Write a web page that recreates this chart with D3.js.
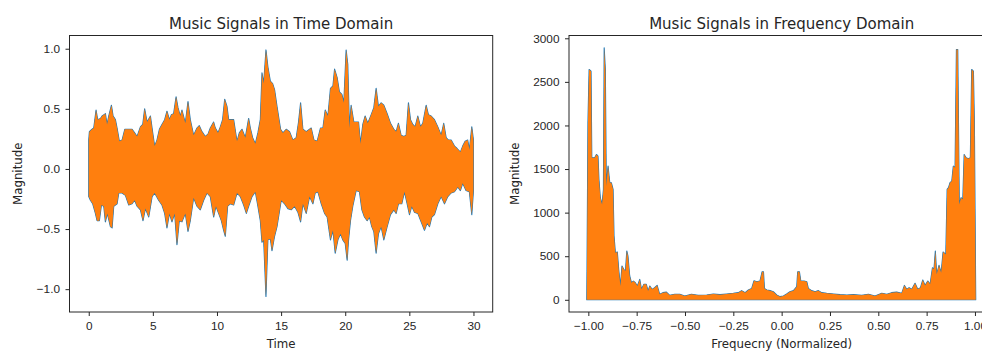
<!DOCTYPE html>
<html>
<head>
<meta charset="utf-8">
<script src="https://cdn.jsdelivr.net/npm/d3@7"></script>
<style>
  html, body { margin: 0; padding: 0; background: #fff; overflow: hidden; }
  svg { display: block; font-family: "DejaVu Sans", sans-serif; }
  .tick text { font-size: 11.8px; fill: #262626; }
  .tick line, .domain { stroke: #262626; }
</style>
</head>
<body>
<svg id="chart" width="982" height="354"></svg>
<script>
// time domain: envelope of the waveform [time s, magnitude]
const timeUpper = [
  [0.00,0.24],[0.05,0.31],[0.26,0.33],[0.39,0.34],[0.57,0.49],[0.70,0.41],[0.91,0.42],[1.04,0.44],[1.17,0.45],[1.30,0.46],
  [1.43,0.37],[1.56,0.44],[1.77,0.53],[1.90,0.44],[2.08,0.41],[2.21,0.34],[2.39,0.23],[2.60,0.24],[2.81,0.33],[3.12,0.33],
  [3.38,0.33],[3.58,0.30],[3.77,0.27],[4.03,0.35],[4.21,0.37],[4.36,0.50],[4.55,0.39],[4.81,0.44],[4.99,0.30],[5.14,0.19],
  [5.32,0.24],[5.51,0.33],[5.71,0.37],[5.92,0.41],[6.10,0.48],[6.29,0.41],[6.44,0.45],[6.62,0.46],[6.81,0.60],[6.96,0.51],
  [7.14,0.44],[7.27,0.49],[7.53,0.38],[7.74,0.56],[7.92,0.41],[8.18,0.28],[8.44,0.34],[8.62,0.36],[8.83,0.31],[9.09,0.27],
  [9.30,0.29],[9.48,0.34],[9.74,0.39],[9.87,0.34],[10.08,0.30],[10.26,0.35],[10.44,0.41],[10.60,0.58],[10.78,0.52],[10.91,0.41],
  [11.12,0.41],[11.30,0.41],[11.56,0.23],[11.74,0.30],[11.95,0.33],[12.21,0.26],[12.47,0.42],[12.60,0.34],[12.78,0.26],[12.99,0.21],
  [13.19,0.30],[13.38,0.41],[13.51,0.80],[13.64,0.71],[13.82,0.99],[13.97,0.85],[14.16,0.73],[14.34,0.71],[14.49,0.66],[14.68,0.52],
  [14.96,0.33],[15.14,0.30],[15.40,0.33],[15.66,0.31],[15.92,0.24],[16.18,0.26],[16.36,0.39],[16.52,0.55],[16.70,0.33],[16.96,0.31],
  [17.22,0.33],[17.35,0.34],[17.56,0.24],[17.81,0.23],[18.07,0.34],[18.26,0.34],[18.44,0.49],[18.65,0.44],[18.85,0.67],[19.04,0.69],
  [19.17,0.83],[19.37,0.76],[19.55,0.64],[19.74,0.62],[19.89,0.55],[20.07,0.99],[20.20,0.87],[20.33,0.34],[20.46,0.53],[20.67,0.39],
  [20.85,0.39],[21.04,0.39],[21.19,0.21],[21.37,0.37],[21.55,0.44],[21.76,0.38],[22.02,0.45],[22.23,0.51],[22.41,0.67],[22.59,0.52],
  [22.80,0.55],[23.01,0.53],[23.27,0.46],[23.53,0.38],[23.79,0.33],[23.97,0.31],[24.15,0.38],[24.36,0.28],[24.57,0.27],[24.75,0.28],
  [24.93,0.55],[25.09,0.41],[25.27,0.37],[25.45,0.35],[25.66,0.44],[25.87,0.35],[26.05,0.38],[26.31,0.53],[26.49,0.45],[26.70,0.44],
  [26.96,0.41],[27.22,0.35],[27.48,0.28],[27.68,0.38],[27.87,0.26],[28.05,0.24],[28.26,0.24],[28.52,0.19],[28.72,0.17],[28.98,0.14],
  [29.16,0.19],[29.35,0.23],[29.55,0.24],[29.68,0.16],[29.87,0.35],[30.00,0.24]
];
const timeLower = [
  [0.00,-0.23],[0.13,-0.26],[0.31,-0.29],[0.52,-0.37],[0.65,-0.43],[0.83,-0.43],[0.99,-0.30],[1.17,-0.31],[1.30,-0.44],[1.45,-0.37],
  [1.69,-0.48],[1.82,-0.49],[1.95,-0.31],[2.21,-0.29],[2.34,-0.20],[2.60,-0.20],[2.86,-0.22],[3.12,-0.30],[3.38,-0.29],[3.58,-0.26],
  [3.77,-0.31],[4.03,-0.34],[4.23,-0.43],[4.42,-0.33],[4.68,-0.40],[4.94,-0.23],[5.14,-0.20],[5.45,-0.26],[5.71,-0.30],[5.92,-0.37],
  [6.10,-0.49],[6.29,-0.37],[6.49,-0.44],[6.70,-0.37],[6.88,-0.63],[7.06,-0.43],[7.27,-0.44],[7.53,-0.37],[7.74,-0.52],[7.92,-0.43],
  [8.18,-0.24],[8.44,-0.31],[8.70,-0.34],[8.96,-0.26],[9.22,-0.20],[9.48,-0.23],[9.74,-0.40],[9.92,-0.31],[10.13,-0.37],[10.34,-0.43],
  [10.52,-0.51],[10.65,-0.56],[10.83,-0.31],[11.04,-0.29],[11.30,-0.30],[11.56,-0.20],[11.82,-0.23],[12.08,-0.30],[12.29,-0.37],[12.47,-0.31],
  [12.73,-0.23],[12.99,-0.19],[13.19,-0.31],[13.38,-0.43],[13.51,-0.61],[13.64,-0.59],[13.82,-1.06],[13.97,-0.59],[14.16,-0.58],[14.29,-0.68],
  [14.49,-0.56],[14.68,-0.48],[15.01,-0.26],[15.27,-0.29],[15.53,-0.33],[15.79,-0.34],[16.05,-0.31],[16.31,-0.36],[16.52,-0.44],[16.70,-0.29],
  [16.96,-0.37],[17.22,-0.23],[17.48,-0.29],[17.66,-0.20],[17.87,-0.19],[18.13,-0.29],[18.39,-0.37],[18.59,-0.40],[18.85,-0.59],[19.04,-0.51],
  [19.22,-0.70],[19.43,-0.59],[19.63,-0.54],[19.81,-0.59],[20.00,-0.62],[20.15,-0.76],[20.26,-0.59],[20.41,-0.43],[20.59,-0.31],[20.85,-0.18],
  [21.11,-0.19],[21.30,-0.34],[21.50,-0.40],[21.71,-0.43],[21.89,-0.40],[22.07,-0.48],[22.23,-0.52],[22.41,-0.70],[22.59,-0.54],[22.80,-0.48],
  [23.01,-0.59],[23.27,-0.48],[23.53,-0.38],[23.79,-0.34],[23.97,-0.37],[24.15,-0.29],[24.41,-0.29],[24.62,-0.19],[24.83,-0.29],[25.01,-0.38],
  [25.19,-0.31],[25.40,-0.36],[25.66,-0.37],[25.92,-0.44],[26.18,-0.51],[26.39,-0.45],[26.57,-0.48],[26.75,-0.40],[26.96,-0.38],[27.22,-0.29],
  [27.48,-0.23],[27.74,-0.29],[28.00,-0.23],[28.26,-0.20],[28.52,-0.19],[28.78,-0.15],[28.98,-0.18],[29.16,-0.12],[29.42,-0.18],[29.68,-0.19],
  [29.87,-0.38],[30.00,-0.18]
];

// frequency domain: envelope of |FFT| [normalized freq, magnitude]
const spectrum = [
  [-1.008,0],[-1.006,636],[-1.002,2031],[-0.996,2642],[-0.986,2623],[-0.982,1629],[-0.967,1629],[-0.958,1667],[-0.950,1648],[-0.945,1381],
  [-0.938,1171],[-0.929,1094],[-0.922,1266],[-0.918,2890],[-0.912,2642],[-0.907,1305],[-0.898,1534],[-0.889,1343],[-0.881,1343],[-0.872,1266],
  [-0.867,731],[-0.860,540],[-0.850,548],[-0.843,349],[-0.834,158],[-0.826,388],[-0.817,349],[-0.808,330],[-0.801,560],[-0.795,502],
  [-0.786,273],[-0.777,196],[-0.767,215],[-0.757,196],[-0.746,158],[-0.734,234],[-0.725,120],[-0.713,177],[-0.700,177],[-0.691,101],
  [-0.682,158],[-0.670,120],[-0.657,139],[-0.644,165],[-0.631,63],[-0.614,82],[-0.596,88],[-0.579,51],[-0.553,63],[-0.527,63],
  [-0.501,44],[-0.467,63],[-0.432,51],[-0.388,55],[-0.353,66],[-0.319,59],[-0.284,66],[-0.250,74],[-0.224,82],[-0.207,105],
  [-0.189,82],[-0.172,112],[-0.155,131],[-0.143,219],[-0.129,208],[-0.112,216],[-0.101,322],[-0.094,322],[-0.089,131],[-0.077,112],
  [-0.060,105],[-0.043,93],[-0.026,55],[-0.008,36],[0.009,44],[0.026,66],[0.043,93],[0.061,105],[0.078,151],[0.083,322],
  [0.092,322],[0.099,216],[0.116,216],[0.130,208],[0.138,131],[0.155,105],[0.173,93],[0.190,105],[0.207,82],[0.233,74],
  [0.268,66],[0.302,59],[0.337,55],[0.371,59],[0.414,51],[0.449,63],[0.483,44],[0.518,74],[0.544,63],[0.569,82],
  [0.595,88],[0.621,74],[0.635,165],[0.647,120],[0.659,139],[0.673,120],[0.690,189],[0.704,120],[0.718,139],[0.730,227],
  [0.742,165],[0.756,215],[0.768,177],[0.780,368],[0.788,349],[0.795,560],[0.802,292],[0.814,395],[0.825,311],[0.835,548],
  [0.849,521],[0.856,1266],[0.863,1286],[0.871,1343],[0.880,1362],[0.888,1534],[0.897,1515],[0.904,2871],[0.911,2871],[0.919,1094],
  [0.928,1171],[0.937,1152],[0.944,1667],[0.954,1629],[0.966,1617],[0.976,1629],[0.983,2642],[0.992,2623],[0.997,2031],[1.002,579],
  [1.004,0]
];

const timeTicksX = [0, 5, 10, 15, 20, 25, 30];
const timeTicksY = [-1.0, -0.5, 0.0, 0.5, 1.0];
const freqTicksX = [-1.0, -0.75, -0.5, -0.25, 0, 0.25, 0.5, 0.75, 1.0];
const freqTicksY = [0, 500, 1000, 1500, 2000, 2500, 3000];

const blue = '#1f77b4', orange = '#ff7f0e';
const svg = d3.select('#chart');
const plotTop = 35.5, plotBottom = 312;

function frame(x, y, xTicks, yTicks, xFmt, yFmt, title, xLabel, yLabel, labelX, id) {
  const [x0, x1] = x.range();
  svg.append('clipPath').attr('id', id).append('rect')
    .attr('x', x0).attr('y', plotTop).attr('width', x1 - x0).attr('height', plotBottom - plotTop);

  const g = svg.append('g').attr('clip-path', `url(#${id})`);

  svg.append('g').attr('transform', `translate(0,${plotBottom})`)
    .call(d3.axisBottom(x).tickValues(xTicks).tickFormat(d3.format(xFmt)).tickSize(4).tickPadding(6))
    .call(a => a.select('.domain').remove());
  svg.append('g').attr('transform', `translate(${x0},0)`)
    .call(d3.axisLeft(y).tickValues(yTicks).tickFormat(d3.format(yFmt)).tickSize(4).tickPadding(5.5))
    .call(a => a.select('.domain').remove());

  svg.append('rect')
    .attr('x', x0).attr('y', plotTop).attr('width', x1 - x0).attr('height', plotBottom - plotTop)
    .attr('fill', 'none').attr('stroke', '#262626').attr('stroke-width', 1);

  svg.append('text').attr('x', (x0 + x1) / 2).attr('y', 29)
    .attr('text-anchor', 'middle').attr('font-size', 15).attr('fill', '#262626').text(title);
  svg.append('text').attr('x', (x0 + x1) / 2).attr('y', 347.5)
    .attr('text-anchor', 'middle').attr('font-size', 11.8).attr('fill', '#262626').text(xLabel);
  svg.append('text')
    .attr('transform', `translate(${labelX},${(plotTop + plotBottom) / 2}) rotate(-90)`)
    .attr('text-anchor', 'middle').attr('font-size', 11.8).attr('fill', '#262626').text(yLabel);
  return g;
}

// left: time domain
const xT = d3.scaleLinear().domain([-1.5, 31.5]).range([69.5, 492.7]);
const yT = d3.scaleLinear().domain([-1.19, 1.11]).range([plotBottom, plotTop]);
const gT = frame(xT, yT, timeTicksX, timeTicksY, 'd', '.1f',
  'Music Signals in Time Domain', 'Time', 'Magnitude', 22, 'clipT');

const envLine = d3.line().x(d => xT(d[0])).y(d => yT(d[1]));
const envPath = envLine(timeUpper.concat(timeLower.slice().reverse())) + 'Z';
gT.append('path').attr('d', envPath).attr('fill', blue)
  .attr('stroke', blue).attr('stroke-width', 1.1).attr('stroke-linejoin', 'round');
gT.append('path').attr('d', envPath).attr('fill', orange);

// right: frequency domain
const xF = d3.scaleLinear().domain([-1.1, 1.1]).range([569, 994.3]);
const yF = d3.scaleLinear().domain([-140, 3032]).range([plotBottom, plotTop]);
const gF = frame(xF, yF, freqTicksX, freqTicksY, '.2f', 'd',
  'Music Signals in Frequency Domain', 'Frequecny (Normalized)', 'Magnitude', 519, 'clipF');

const specArea = d3.area().x(d => xF(d[0])).y0(yF(0)).y1(d => yF(d[1]));
gF.append('path').attr('d', specArea(spectrum)).attr('fill', blue)
  .attr('stroke', blue).attr('stroke-width', 1.1).attr('stroke-linejoin', 'round');
gF.append('path').attr('d', specArea(spectrum)).attr('fill', orange);
</script>
</body>
</html>
